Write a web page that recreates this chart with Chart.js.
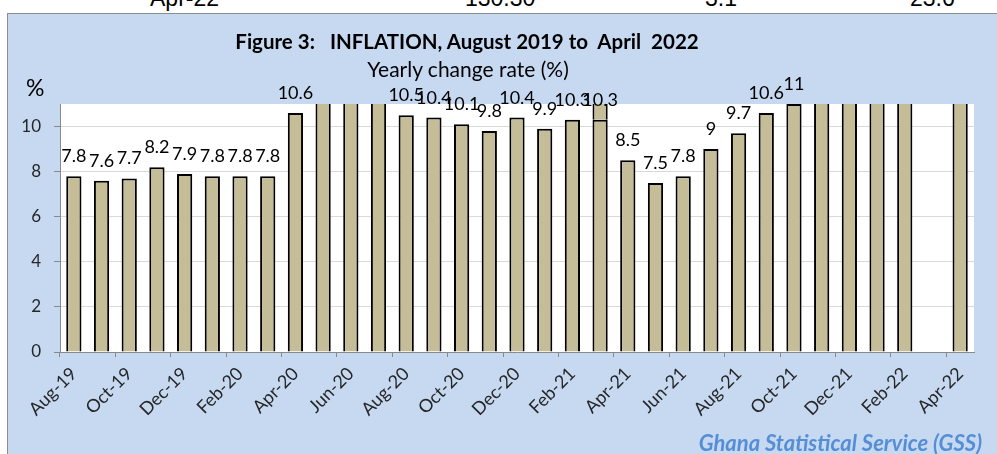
<!DOCTYPE html>
<html>
<head>
<meta charset="utf-8">
<script src="https://cdn.jsdelivr.net/npm/chart.js@4.4.1/dist/chart.umd.min.js"></script>
<style>
  html, body { margin: 0; padding: 0; }
  body { width: 997px; height: 454px; overflow: hidden; position: relative; background: #fff; font-family: Lato, sans-serif; }
  .top { position: absolute; top: -15px; font-family: "Liberation Sans", Arial, sans-serif; font-size: 23px; color: #000; }
  #box { position: absolute; left: 7px; top: 13px; width: 1000px; height: 460px; background: #c6d9f1; border: 1px solid #8c8c8c; }
  #chart { position: absolute; left: 0; top: 0; }
  .txt { position: absolute; white-space: pre; color: #000; line-height: 1.2; }
  #title { left: 0; width: 934px; text-align: center; top: 29px; font-weight: bold; font-size: 20.5px; }
  #subtitle { left: 0; width: 936px; text-align: center; top: 56px; font-size: 21px; }
  #pct { left: 26px; top: 74px; font-size: 23px; }
  #source { right: 15px; top: 430px; font-size: 22px; font-weight: bold; font-style: italic; color: #558ed5; }
</style>
</head>
<body>
<span class="top" style="left:150px">Apr-22</span>
<span class="top" style="left:465px">130.30</span>
<span class="top" style="left:705px">3.1</span>
<span class="top" style="left:910px">23.6</span>
<div id="box"></div>
<canvas id="chart" width="997" height="454"></canvas>
<div class="txt" id="title">Figure 3:   INFLATION, August 2019 to  April  2022</div>
<div class="txt" id="subtitle">Yearly change rate (%)</div>
<div class="txt" id="pct">%</div>
<div class="txt" id="source">Ghana Statistical Service (GSS)</div>
<script>
// Months, Aug-19 .. Apr-22
const MONTHS = [
  "Aug-19", "Sep-19", "Oct-19", "Nov-19", "Dec-19", "Jan-20", "Feb-20", "Mar-20",
  "Apr-20", "May-20", "Jun-20", "Jul-20", "Aug-20", "Sep-20", "Oct-20", "Nov-20",
  "Dec-20", "Jan-21", "Feb-21", "Mar-21", "Apr-21", "May-21", "Jun-21", "Jul-21",
  "Aug-21", "Sep-21", "Oct-21", "Nov-21", "Dec-21", "Jan-22", "Feb-22", "Mar-22",
  "Apr-22",
];

// Yearly inflation rate (%)
const INFLATION = [
  7.8, 7.6, 7.7, 8.2, 7.9, 7.8, 7.8, 7.8,
  10.6, 11.3, 11.2, 11.4, 10.5, 10.4, 10.1, 9.8,
  10.4, 9.9, 10.3, 10.3, 8.5, 7.5, 7.8, 9.0,
  9.7, 10.6, 11.0, 12.2, 12.6, 13.9, 15.7, null,
  23.6,
];

// Mar-21 bar carries an extra segment above its 10.3 value
const MAR21_EXTRA = MONTHS.map((m) => (m === "Mar-21" ? 1.5 : null));

const Y_MAX = 11;
const Y_STEP = 2;

Chart.defaults.font.family = "Lato, sans-serif";
Chart.defaults.color = "#262626";

// white plot area
const plotBg = {
  id: "plotBg",
  beforeDraw(chart) {
    const { ctx, chartArea: a } = chart;
    ctx.save();
    ctx.fillStyle = "#ffffff";
    ctx.fillRect(a.left, a.top, a.right - a.left, a.bottom - a.top);
    ctx.restore();
  },
};

// value labels above bars (hidden when the bar runs off the top)
const barLabels = {
  id: "barLabels",
  afterDatasetsDraw(chart) {
    const { ctx } = chart;
    const meta = chart.getDatasetMeta(0);
    ctx.save();
    ctx.font = "18px Lato, sans-serif";
    ctx.fillStyle = "#000";
    ctx.textAlign = "center";
    ctx.textBaseline = "alphabetic";
    meta.data.forEach((bar, i) => {
      const v = INFLATION[i];
      if (v == null || v > Y_MAX) return;
      ctx.fillText(String(v), bar.x, bar.y - 14);
    });
    ctx.restore();
  },
};

new Chart(document.getElementById("chart"), {
  type: "bar",
  data: {
    labels: MONTHS,
    datasets: [
      {
        label: "Inflation",
        data: INFLATION,
        backgroundColor: "#c4bd97",
        borderColor: "#000",
        borderWidth: 2,
        categoryPercentage: 1,
        barPercentage: 0.55,
        clip: 0,
      },
      {
        label: "extra",
        data: MAR21_EXTRA,
        backgroundColor: "#c4bd97",
        borderColor: "#000",
        borderWidth: 2,
        categoryPercentage: 1,
        barPercentage: 0.55,
        clip: 0,
      },
    ],
  },
  options: {
    responsive: false,
    devicePixelRatio: 1,
    animation: false,
    layout: { padding: { left: 0, right: 23, top: 104, bottom: 0 } },
    plugins: {
      legend: { display: false },
      title: { display: false },
      tooltip: { enabled: false },
    },
    scales: {
      x: {
        stacked: true,
        offset: true,
        afterFit: (s) => { s.height = 102; },
        border: { color: "#898989", width: 1 },
        grid: {
          offset: true,
          drawOnChartArea: false,
          tickLength: 5,
          tickColor: (c) => (c.index % 2 === 0 ? "#898989" : "rgba(0,0,0,0)"),
        },
        ticks: {
          autoSkip: false,
          maxRotation: 45,
          minRotation: 45,
          padding: 6,
          font: { size: 18 },
          callback: (v, i) => (i % 2 === 0 ? MONTHS[i] : ""),
        },
      },
      y: {
        stacked: true,
        min: 0,
        max: Y_MAX,
        afterFit: (s) => { s.width = 60; },
        border: { color: "#898989", width: 1 },
        grid: { color: "#d9d9d9", tickColor: "#898989", tickLength: 6 },
        ticks: { stepSize: Y_STEP, includeBounds: false, padding: 13, font: { size: 17 } },
      },
    },
  },
  plugins: [plotBg, barLabels],
});
</script>
</body>
</html>
